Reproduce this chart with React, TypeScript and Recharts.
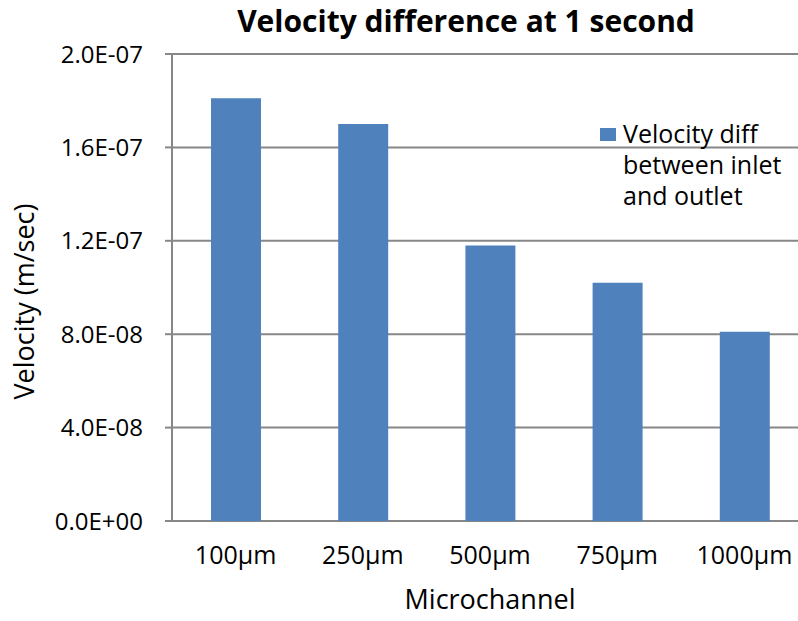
import { Bar, BarChart, CartesianGrid, Label, Legend, XAxis, YAxis } from 'recharts'

const channels = ['100µm', '250µm', '500µm', '750µm', '1000µm']
const velocityDiff = [1.81e-7, 1.7e-7, 1.18e-7, 1.02e-7, 8.1e-8]
const yTicks = [0, 4e-8, 8e-8, 1.2e-7, 1.6e-7, 2e-7]
// category boundaries, used only for the tick marks between bars
const edgeTicks = [0, 1, 2, 3, 4, 5]

const seriesName = 'Velocity diff between inlet and outlet'
const legendLines = ['Velocity diff', 'between inlet', 'and outlet']

const data = channels.map((channel, i) => ({ channel, diff: velocityDiff[i] }))

const FONT = '"Open Sans", sans-serif'
const GRAY = '#878787'
const BLUE = '#4F81BD'

// Excel-style scientific notation: 1.6E-07, 0.0E+00
function sci(v: number) {
  const [mant, exp] = v.toExponential(1).split('e')
  const n = Number(exp)
  const sign = n < 0 ? '-' : '+'
  return `${mant}E${sign}${String(Math.abs(n)).padStart(2, '0')}`
}

function LegendBox() {
  return (
    <div style={{ position: 'relative', fontFamily: FONT, fontSize: 25, lineHeight: '31px', color: '#000' }}>
      <div style={{ position: 'absolute', left: 0, top: 10, width: 16, height: 13, background: BLUE }} />
      <div style={{ marginLeft: 23 }}>
        {legendLines.map((line) => (
          <div key={line} style={{ whiteSpace: 'nowrap' }}>{line}</div>
        ))}
      </div>
    </div>
  )
}

// rotated y-axis title, placed left of the tick labels
function YTitle(props: any) {
  const { viewBox } = props
  const cx = viewBox.x + 23
  const cy = viewBox.y + viewBox.height / 2 + 14
  return (
    <text
      x={cx}
      y={cy}
      transform={`rotate(-90, ${cx}, ${cy})`}
      textAnchor="middle"
      dominantBaseline="central"
      fill="#000"
      fontSize={27}
      fontFamily={FONT}
    >
      Velocity (m/sec)
    </text>
  )
}

export default function App() {
  return (
    <div
      style={{
        position: 'fixed',
        left: 0,
        top: 0,
        width: 798,
        height: 621,
        overflow: 'hidden',
        background: '#fff',
      }}
    >
      <div
        style={{
          position: 'absolute',
          left: 0,
          width: 932,
          top: 1,
          textAlign: 'center',
          fontFamily: FONT,
          fontWeight: 700,
          fontSize: 30,
          lineHeight: '40px',
          color: '#000',
        }}
      >
        Velocity difference at 1 second
      </div>
      <BarChart
        width={820}
        height={621}
        data={data}
        margin={{ top: 54, right: 12, bottom: 0, left: 0 }}
        style={{ position: 'absolute', left: 0, top: 0 }}
      >
        <CartesianGrid vertical={false} stroke={GRAY} strokeWidth={2} xAxisId="cat" />
        <XAxis
          xAxisId="edges"
          type="number"
          domain={[0, 5]}
          ticks={edgeTicks}
          height={0}
          tick={false}
          tickSize={9}
          axisLine={{ stroke: GRAY, strokeWidth: 2 }}
          tickLine={{ stroke: GRAY, strokeWidth: 2 }}
        />
        <XAxis
          xAxisId="cat"
          dataKey="channel"
          height={100}
          axisLine={false}
          tickLine={false}
          tickSize={0}
          tickMargin={25}
          tick={{ fill: '#000', fontSize: 25, fontFamily: FONT }}
        >
          <Label
            value="Microchannel"
            position="insideBottom"
            offset={12}
            style={{ fill: '#000', fontSize: 27, fontFamily: FONT }}
          />
        </XAxis>
        <YAxis
          width={172}
          domain={[0, 2e-7]}
          ticks={yTicks}
          tickFormatter={sci}
          tickSize={7}
          tickMargin={22}
          axisLine={{ stroke: GRAY, strokeWidth: 2 }}
          tickLine={{ stroke: GRAY, strokeWidth: 2 }}
          tick={{ fill: '#000', fontSize: 24, fontFamily: FONT }}
        >
          <Label content={YTitle} />
        </YAxis>
        <Legend
          layout="vertical"
          align="center"
          verticalAlign="middle"
          content={() => <LegendBox />}
          wrapperStyle={{ position: 'absolute', left: 600, top: 118, width: 200 }}
        />
        <Bar
          xAxisId="cat"
          dataKey="diff"
          name={seriesName}
          fill={BLUE}
          barSize={50}
          isAnimationActive={false}
        />
      </BarChart>
    </div>
  )
}
